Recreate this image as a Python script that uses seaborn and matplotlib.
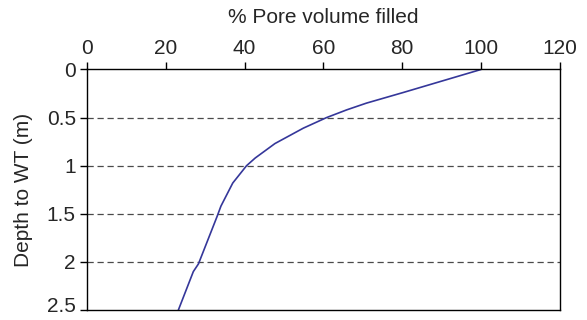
import matplotlib
matplotlib.use("Agg")
import matplotlib.pyplot as plt
import matplotlib.transforms as mtransforms
import seaborn as sns
import pandas as pd

pore_filled = [100.0, 80.2, 70.9, 65.9, 60.8, 54.9, 47.7, 42.7, 40.5, 37.0, 34.0, 33.0, 28.3, 27.0, 23.2]
depth = [0.0, 0.24, 0.35, 0.42, 0.50, 0.61, 0.77, 0.92, 1.00, 1.18, 1.42, 1.53, 2.02, 2.10, 2.50]
x_ticks = [0, 20, 40, 60, 80, 100, 120]
y_ticks = [0, 0.5, 1, 1.5, 2, 2.5]
y_tick_labels = ["0", "0.5", "1", "1.5", "2", "2.5"]

sns.set_theme(style="white")
plt.rcParams['font.family'] = ['Liberation Sans', 'DejaVu Sans']

df = pd.DataFrame({"pore": pore_filled, "depth": depth})

fig = plt.figure(figsize=(5.87, 3.2), dpi=100)
ax = fig.add_axes([0.148, 0.031, 0.806, 0.752])

sns.lineplot(data=df, x="pore", y="depth", sort=False, ax=ax,
             color="#35379a", linewidth=1.2)

ax.set_xlim(0, 120)
ax.set_ylim(2.5, 0)
ax.set_xticks(x_ticks)
ax.set_yticks(y_ticks)
ax.set_yticklabels(y_tick_labels)

ax.xaxis.tick_top()
ax.xaxis.set_label_position('top')
ax.set_xlabel("% Pore volume filled", fontsize=15, labelpad=12)
ax.set_ylabel("Depth to WT (m)", fontsize=15, labelpad=10)

ax.tick_params(axis='x', which='both', top=True, bottom=False, direction='out',
               length=5, width=1, color='black', labelsize=15, pad=3)
ax.tick_params(axis='y', which='both', left=True, direction='out',
               length=5, width=1, color='black', labelsize=15, pad=3)
ylabels = ax.get_yticklabels()
for lbl in ylabels:
    lbl.set_verticalalignment('center_baseline')
# lift the bottom label slightly so it stays inside the canvas (as in the reference)
last = ylabels[-1]
last.set_transform(last.get_transform() +
                   mtransforms.ScaledTranslation(0, 4 / 72, fig.dpi_scale_trans))

for yv in [0.5, 1, 1.5, 2]:
    ax.axhline(yv, color='#4a4a4a', linestyle=(0, (5, 3)), linewidth=0.9, zorder=0)

for s in ax.spines.values():
    s.set_visible(True)
    s.set_color('black')
    s.set_linewidth(1.0)

fig.savefig("out.png", dpi=100)
